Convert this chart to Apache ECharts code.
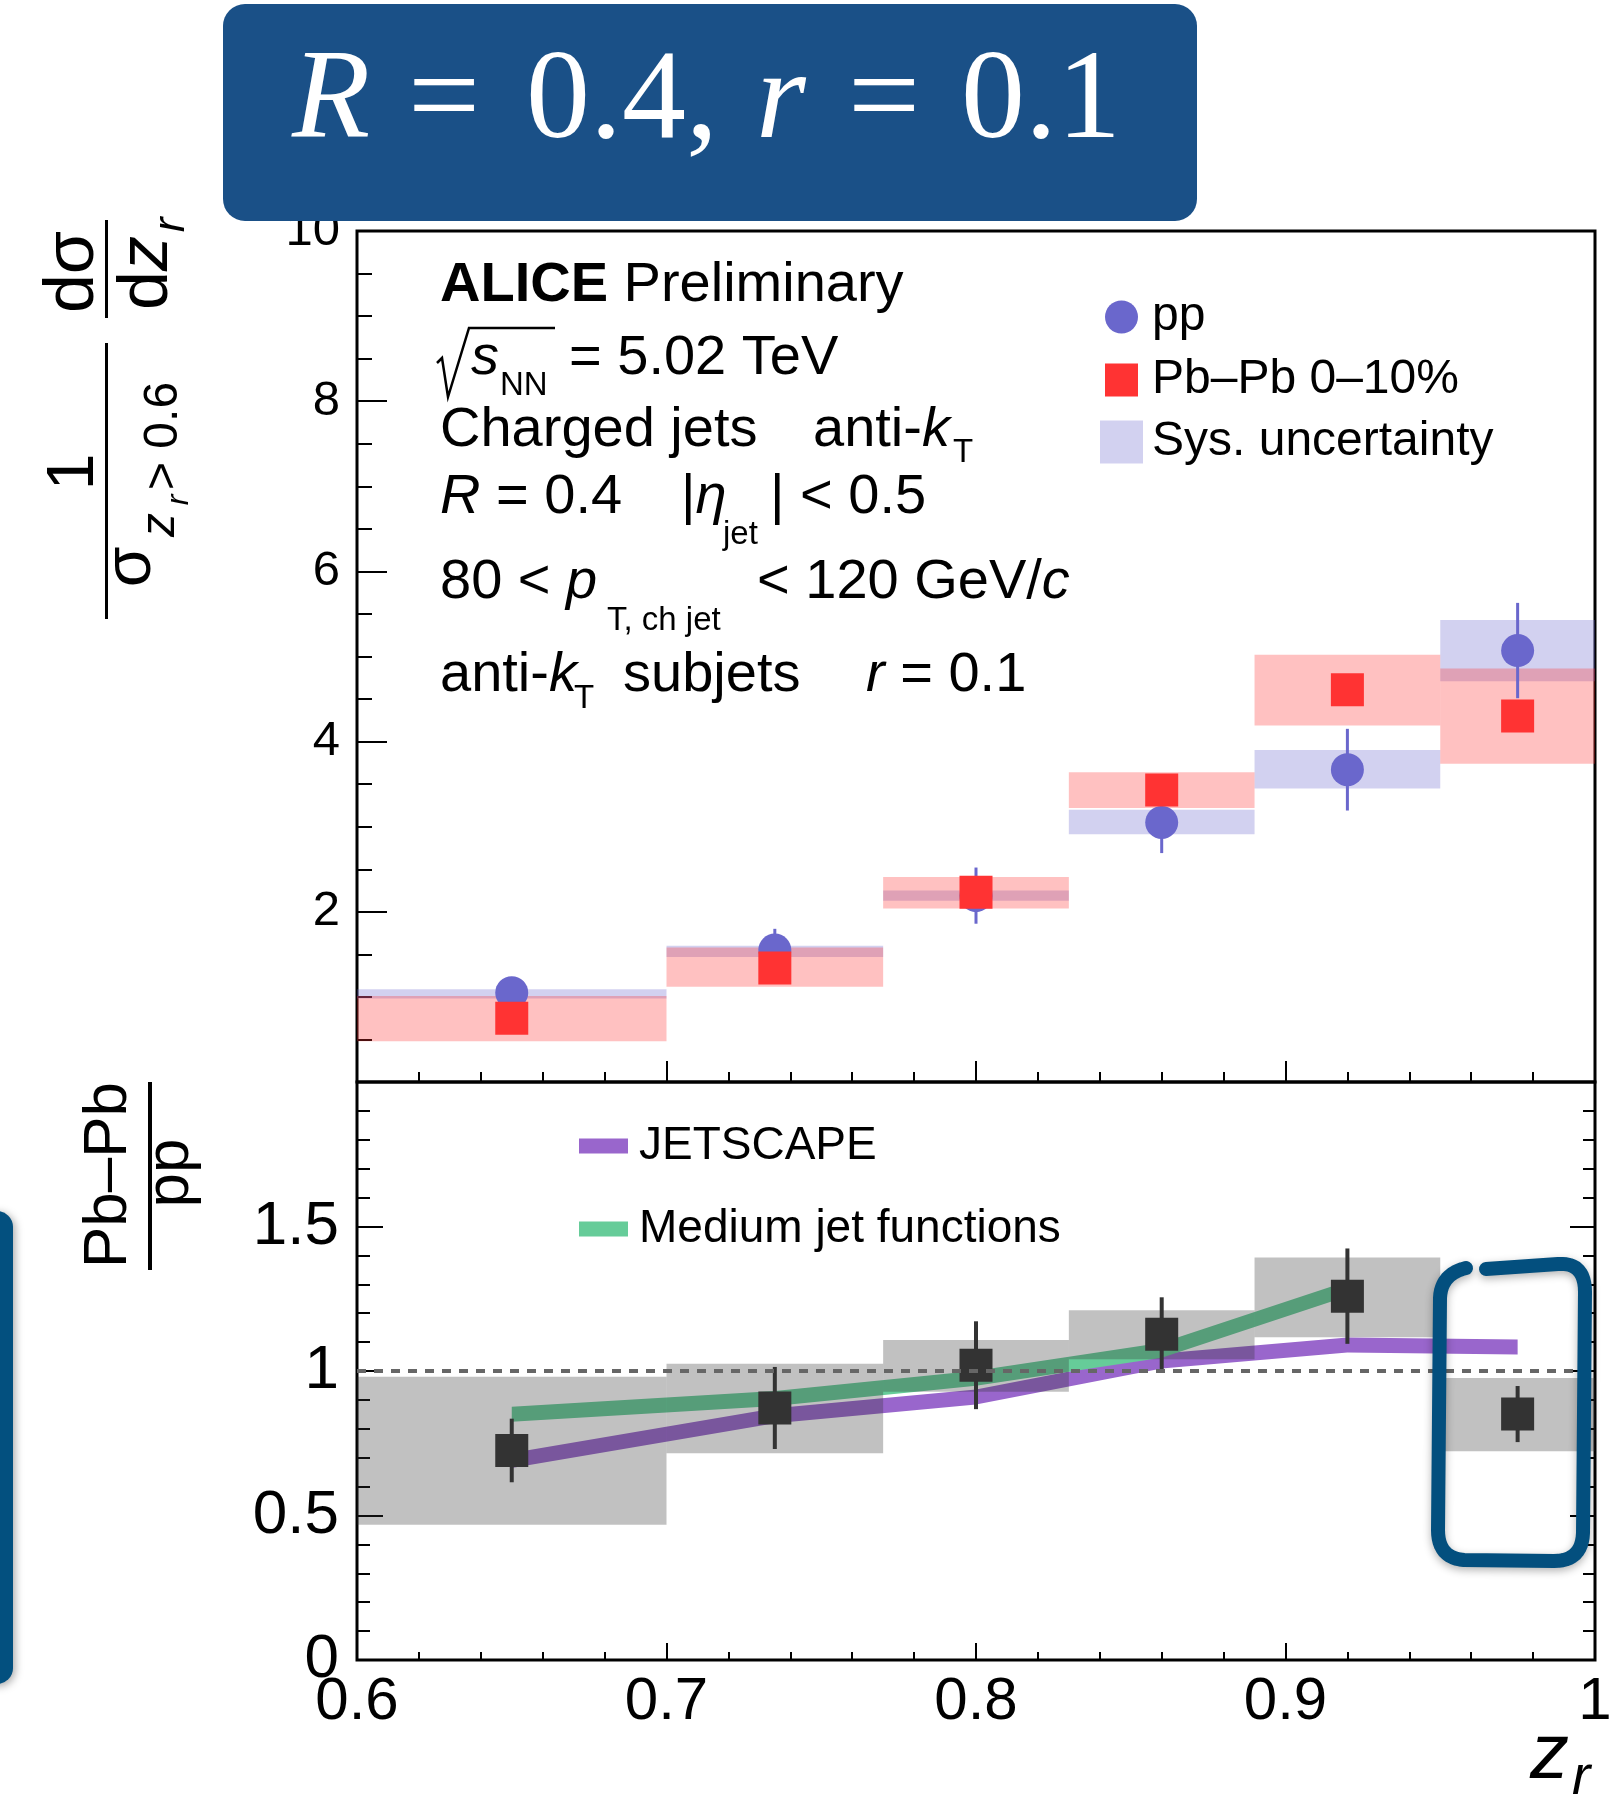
<!DOCTYPE html>
<html><head><meta charset="utf-8">
<script src="https://cdn.jsdelivr.net/npm/echarts@6/dist/echarts.min.js"></script>
<style>html,body{margin:0;padding:0;background:#fff}#c{width:1615px;height:1815px}</style>
</head><body><div id="c"></div>
<script>
// ---------------- data ----------------
const binEdges    = [0.6, 0.7, 0.77, 0.83, 0.89, 0.95, 1.0];
const binCenters  = [0.65, 0.735, 0.8, 0.86, 0.92, 0.975];
const ppValues    = [1.05, 1.55, 2.19, 3.05, 3.67, 5.07];
const ppStatErr   = [0.16, 0.25, 0.33, 0.36, 0.48, 0.56];
const ppSysLow    = [0.98, 1.47, 2.13, 2.91, 3.45, 4.71];
const ppSysHigh   = [1.09, 1.60, 2.25, 3.20, 3.90, 5.43];
const pbpbValues  = [0.75, 1.34, 2.23, 3.43, 4.61, 4.30];
const pbpbSysLow  = [0.48, 1.12, 2.04, 3.22, 4.19, 3.74];
const pbpbSysHigh = [1.01, 1.58, 2.41, 3.64, 5.02, 4.86];
const ratioValues  = [0.725, 0.872, 1.02, 1.127, 1.259, 0.851];
const ratioStatErr = [0.11, 0.142, 0.152, 0.128, 0.165, 0.097];
const ratioSysLow  = [0.468, 0.715, 0.928, 1.041, 1.117, 0.722];
const ratioSysHigh = [0.98, 1.025, 1.107, 1.21, 1.393, 0.976];
const jetscapeX = [0.65, 0.735, 0.8, 0.86, 0.92, 0.975];
const jetscapeY = [0.69, 0.845, 0.91, 1.035, 1.09, 1.083];
const mjfX = [0.65, 0.735, 0.8, 0.86, 0.92];
const mjfY = [0.85, 0.905, 0.975, 1.072, 1.285];
const unityLine = [[0.6, 1], [1.0, 1]];
const xTickLabels = ['0.6', '0.7', '0.8', '0.9', '1'];

// ---------------- helpers ----------------
const F = '"Liberation Sans", Arial, Helvetica, sans-serif';
const FSERIF = '"Liberation Serif", "Times New Roman", serif';
const MID = 0.3465;
function font(fs, it, bold, fam) { return (it ? 'italic ' : '') + (bold ? 'bold ' : '') + fs + 'px ' + (fam || F); }
function richFor(fs, fam) { return { i: { font: font(fs, true, false, fam) }, b: { font: font(fs, false, true, fam) } }; }
function T(x, base, text, fs, o) {
  o = o || {};
  const style = { text: text, x: 0, y: 0, font: font(fs, o.italic, o.bold, o.fam), fill: o.color || '#000',
    textAlign: o.align || 'left', align: o.align || 'left', textVerticalAlign: 'middle', verticalAlign: 'middle',
    rich: richFor(fs, o.fam) };
  return { type: 'text', x: x, y: base - (o.mid || MID) * fs, z: o.z || 50, style: style };
}
function R(cy, bx, text, fs, o) {
  o = o || {};
  const style = { text: text, x: 0, y: 0, font: font(fs, o.italic, o.bold), fill: '#000',
    textAlign: o.align || 'center', align: o.align || 'center', textVerticalAlign: 'middle', verticalAlign: 'middle',
    rich: richFor(fs) };
  return { type: 'text', rotation: Math.PI / 2, x: bx - MID * fs, y: cy, z: 50, style: style };
}
// sample a path of line points and quadratic segments {c:[..], e:[..]} into polyline points
function samplePath(start, segs) {
  const out = [start.slice()];
  let cur = start.slice();
  segs.forEach(s => {
    if (!s.c) { out.push(s.slice()); cur = s.slice(); }
    else {
      for (let k = 1; k <= 12; k++) {
        const t = k / 12, u = 1 - t;
        out.push([u * u * cur[0] + 2 * u * t * s.c[0] + t * t * s.e[0], u * u * cur[1] + 2 * u * t * s.c[1] + t * t * s.e[1]]);
      }
      cur = s.e.slice();
    }
  });
  return out;
}
function boxItem(fill) {
  return function (params, api) {
    const p0 = api.coord([api.value(0), api.value(3)]);
    const p1 = api.coord([api.value(1), api.value(2)]);
    return { type: 'rect', shape: { x: p0[0], y: p0[1], width: p1[0] - p0[0], height: p1[1] - p0[1] }, style: { fill: fill } };
  };
}
function errItem(color, w) {
  return function (params, api) {
    const x = api.value(0), y = api.value(1), e = api.value(2);
    const a = api.coord([x, y - e]), b = api.coord([x, y + e]);
    return { type: 'line', shape: { x1: a[0], y1: a[1], x2: b[0], y2: b[1] }, style: { stroke: color, lineWidth: w } };
  };
}
function bandItem(xs, ys, fill, half) {
  return function (params, api) {
    if (params.dataIndex !== 0) return null;
    const top = [], bot = [];
    for (let i = 0; i < xs.length; i++) {
      const p = api.coord([xs[i], ys[i]]);
      top.push([p[0], p[1] - half]);
      bot.unshift([p[0], p[1] + half]);
    }
    return { type: 'polygon', shape: { points: top.concat(bot) }, style: { fill: fill } };
  };
}
const boxes = (lo, hi) => binCenters.map((c, i) => [binEdges[i], binEdges[i + 1], lo[i], hi[i]]);
const errs = (v, e) => binCenters.map((c, i) => [c, v[i], e[i]]);
const pts = (v) => binCenters.map((c, i) => [c, v[i]]);

const tickStyle = { color: '#000', width: 2 };
function xAxisCfg(grid, showLabel, tl, ml) {
  return { type: 'value', gridIndex: grid, min: 0.6, max: 1.0, interval: 0.1,
    axisLine: { show: false }, splitLine: { show: false },
    axisTick: { inside: true, length: tl, lineStyle: tickStyle },
    minorTick: { show: true, splitNumber: 5, length: ml, lineStyle: tickStyle },
    axisLabel: { show: showLabel, fontSize: 60, color: '#000', fontFamily: F, margin: 12,
      formatter: v => xTickLabels[Math.round((v - 0.6) * 10)] } };
}
function yAxisCfg(grid, min, max, interval, minor, pos, label, tl, ml) {
  return { type: 'value', gridIndex: grid, min: min, max: max, interval: interval, position: pos,
    axisLine: { show: false }, splitLine: { show: false },
    axisTick: { inside: true, length: tl, lineStyle: tickStyle },
    minorTick: { show: true, splitNumber: minor, length: ml, lineStyle: tickStyle },
    axisLabel: label };
}
const legendCommon = { orient: 'vertical', padding: 0, itemGap: 0, selectedMode: false };

const bracketPts = samplePath([1486, 1269], [
  [1558, 1264], { c: [1585, 1262], e: [1585, 1292] }, [1583, 1533], { c: [1582, 1561], e: [1554, 1561] },
  [1464, 1560], { c: [1438, 1558], e: [1438, 1530] }, [1440, 1298], { c: [1441, 1274], e: [1466, 1268] }
]);

const graphics = [
  { type: 'rect', z: 100, shape: { x: 223, y: 4, width: 974, height: 217, r: 22 }, style: { fill: '#1a5087' } },
  T(292, 147, 'R', 128, { italic: true, fam: FSERIF, color: '#fff', z: 101, mid: 0.3375 }),
  T(408, 147, '=', 128, { fam: FSERIF, color: '#fff', z: 101, mid: 0.3375 }),
  T(526, 147, '0.4,', 128, { fam: FSERIF, color: '#fff', z: 101, mid: 0.3375 }),
  T(756, 147, 'r', 128, { italic: true, fam: FSERIF, color: '#fff', z: 101, mid: 0.3375 }),
  T(848, 147, '=', 128, { fam: FSERIF, color: '#fff', z: 101, mid: 0.3375 }),
  T(961, 147, '0.1', 128, { fam: FSERIF, color: '#fff', z: 101, mid: 0.3375 }),
  { type: 'rect', z: 100, shape: { x: -40, y: 1211, width: 53, height: 473, r: 16 },
    style: { fill: '#03507f', shadowBlur: 8, shadowColor: 'rgba(0,0,0,0.35)', shadowOffsetX: 2, shadowOffsetY: 2 } },
  { type: 'polyline', z: 100, shape: { points: bracketPts },
    style: { fill: null, stroke: '#034f7e', lineWidth: 14, lineCap: 'round', lineJoin: 'round', shadowBlur: 8, shadowColor: 'rgba(0,0,0,0.3)', shadowOffsetY: 3 } },
  T(440, 305, '{b|ALICE} Preliminary', 56),
  { type: 'polyline', z: 50, shape: { points: [[437, 363], [442, 358], [448, 397], [469, 328], [555, 328]] }, style: { stroke: '#000', lineWidth: 2.5, fill: null } },
  T(471, 378, 's', 56, { italic: true }),
  T(500, 397, 'NN', 33),
  T(569, 378, '= 5.02 TeV', 56),
  T(440, 450, 'Charged jets', 56),
  T(813, 450, 'anti-{i|k}', 56),
  T(953, 464, 'T', 33),
  T(440, 517, '{i|R} = 0.4', 56),
  T(681, 517, '|{i|η}', 56),
  T(723, 546, 'jet', 33),
  T(770, 517, '| < 0.5', 56),
  T(440, 602, '80 < {i|p}', 56),
  T(607, 632, 'T, ch jet', 33),
  T(757, 602, '< 120 GeV/{i|c}', 56),
  T(440, 695, 'anti-{i|k}', 56),
  T(574, 710, 'T', 33),
  T(623, 695, 'subjets', 56),
  T(866, 695, '{i|r} = 0.1', 56),
  R(472, 98, '1', 66),
  { type: 'rect', z: 50, shape: { x: 105, y: 343, width: 3, height: 276 }, style: { fill: '#000' } },
  R(567, 155, 'σ', 66),
  R(525, 177, 'z', 48, { italic: true }),
  R(500, 190, 'r', 32, { italic: true }),
  R(490, 180, '> 0.6', 48, { align: 'left' }),
  R(272, 98, 'dσ', 70),
  { type: 'rect', z: 50, shape: { x: 105, y: 220, width: 3, height: 98 }, style: { fill: '#000' } },
  R(273, 172, 'd{i|z}', 70),
  R(225, 187, 'r', 44, { italic: true }),
  R(1175, 130, 'Pb–Pb', 62),
  { type: 'rect', z: 50, shape: { x: 148, y: 1082, width: 4, height: 188 }, style: { fill: '#000' } },
  R(1173, 192, 'pp', 62),
  T(1530, 1783, 'z', 78, { italic: true }),
  T(1572, 1798, 'r', 55, { italic: true })
];

const option = {
  animation: false,
  backgroundColor: '#fff',
  textStyle: { fontFamily: F },
  grid: [
    { left: 357, top: 231, width: 1238, height: 851, show: true, borderColor: '#000', borderWidth: 3, backgroundColor: 'transparent' },
    { left: 357, top: 1082, width: 1238, height: 578, show: true, borderColor: '#000', borderWidth: 3, backgroundColor: 'transparent' }
  ],
  xAxis: [ xAxisCfg(0, false, 21, 10), xAxisCfg(1, true, 17, 8) ],
  yAxis: [
    yAxisCfg(0, 0, 10, 2, 4, 'left', { show: true, fontSize: 49, color: '#000', fontFamily: F, margin: 17, showMinLabel: false }, 30, 15),
    yAxisCfg(1, 0, 2, 0.5, 5, 'left', { show: true, fontSize: 62, color: '#000', fontFamily: F, margin: 18, showMaxLabel: false }, 26, 13),
    yAxisCfg(1, 0, 2, 0.5, 5, 'right', { show: false }, 25, 12)
  ],
  legend: [
    Object.assign({}, legendCommon, { data: [{ name: 'pp', icon: 'circle' }], left: 1105, top: 293, itemWidth: 33, itemHeight: 33,
      textStyle: { fontSize: 48, color: '#000', fontFamily: F, lineHeight: 33, padding: [0, 0, 0, 9] } }),
    Object.assign({}, legendCommon, { data: [{ name: 'Pb–Pb 0–10%', icon: 'rect' }], left: 1105, top: 356, itemWidth: 33, itemHeight: 33,
      textStyle: { fontSize: 48, color: '#000', fontFamily: F, lineHeight: 33, padding: [0, 0, 0, 9] } }),
    Object.assign({}, legendCommon, { data: [{ name: 'Sys. uncertainty', icon: 'rect' }], left: 1100, top: 418, itemWidth: 43, itemHeight: 43,
      textStyle: { fontSize: 48, color: '#000', fontFamily: F, lineHeight: 43, padding: [0, 0, 0, 4] } }),
    Object.assign({}, legendCommon, { data: [{ name: 'JETSCAPE', icon: 'rect' }], left: 579, top: 1123, itemWidth: 49, itemHeight: 15,
      textStyle: { fontSize: 46, color: '#000', fontFamily: F, lineHeight: 15, padding: [0, 0, 0, 6] } }),
    Object.assign({}, legendCommon, { data: [{ name: 'Medium jet functions', icon: 'rect' }], left: 579, top: 1206, itemWidth: 49, itemHeight: 15,
      textStyle: { fontSize: 46, color: '#000', fontFamily: F, lineHeight: 15, padding: [0, 0, 0, 6] } })
  ],
  graphic: { elements: graphics },
  series: [
    { name: 'Sys. uncertainty', type: 'custom', xAxisIndex: 0, yAxisIndex: 0, renderItem: boxItem('rgba(106,103,204,0.3)'),
      itemStyle: { color: 'rgba(106,103,204,0.3)' }, encode: { x: [0, 1], y: [2, 3] }, data: boxes(ppSysLow, ppSysHigh), silent: true },
    { name: 'PbPb sys', type: 'custom', xAxisIndex: 0, yAxisIndex: 0, renderItem: boxItem('rgba(255,51,51,0.3)'),
      itemStyle: { color: 'rgba(255,51,51,0.3)' }, encode: { x: [0, 1], y: [2, 3] }, data: boxes(pbpbSysLow, pbpbSysHigh), silent: true },
    { name: 'pp stat', type: 'custom', xAxisIndex: 0, yAxisIndex: 0, renderItem: errItem('#6a67cc', 3),
      encode: { x: 0, y: 1 }, data: errs(ppValues, ppStatErr), silent: true },
    { name: 'pp', type: 'scatter', xAxisIndex: 0, yAxisIndex: 0, symbol: 'circle', symbolSize: 33,
      itemStyle: { color: '#6a67cc', opacity: 1 }, data: pts(ppValues), silent: true },
    { name: 'Pb–Pb 0–10%', type: 'scatter', xAxisIndex: 0, yAxisIndex: 0, symbol: 'rect', symbolSize: 33,
      itemStyle: { color: '#ff3333', opacity: 1 }, data: pts(pbpbValues), silent: true },

    { name: 'JETSCAPE', type: 'custom', xAxisIndex: 1, yAxisIndex: 1, renderItem: bandItem(jetscapeX, jetscapeY, '#9966cc', 7.5),
      itemStyle: { color: '#9966cc' }, encode: { x: 0, y: 1 }, data: jetscapeX.map((x, i) => [x, jetscapeY[i]]), silent: true },
    { name: 'Medium jet functions', type: 'custom', xAxisIndex: 1, yAxisIndex: 1, renderItem: bandItem(mjfX, mjfY, '#66cc99', 7.5),
      itemStyle: { color: '#66cc99' }, encode: { x: 0, y: 1 }, data: mjfX.map((x, i) => [x, mjfY[i]]), silent: true },
    { name: 'ratio sys', type: 'custom', xAxisIndex: 1, yAxisIndex: 1, renderItem: boxItem('rgba(51,51,51,0.3)'),
      itemStyle: { color: 'rgba(51,51,51,0.3)' }, encode: { x: [0, 1], y: [2, 3] }, data: boxes(ratioSysLow, ratioSysHigh), silent: true },
    { name: 'unity', type: 'line', xAxisIndex: 1, yAxisIndex: 1, symbol: 'none', data: unityLine, silent: true,
      lineStyle: { color: '#666', width: 4, type: [9, 8] } },
    { name: 'ratio stat', type: 'custom', xAxisIndex: 1, yAxisIndex: 1, renderItem: errItem('#333333', 4),
      encode: { x: 0, y: 1 }, data: errs(ratioValues, ratioStatErr), silent: true },
    { name: 'ratio', type: 'scatter', xAxisIndex: 1, yAxisIndex: 1, symbol: 'rect', symbolSize: 33,
      itemStyle: { color: '#333333', opacity: 1 }, data: pts(ratioValues), silent: true }
  ]
};
const chart = echarts.init(document.getElementById('c'), null, { renderer: 'canvas', width: 1615, height: 1815 });
chart.setOption(option);
</script>
</body></html>
